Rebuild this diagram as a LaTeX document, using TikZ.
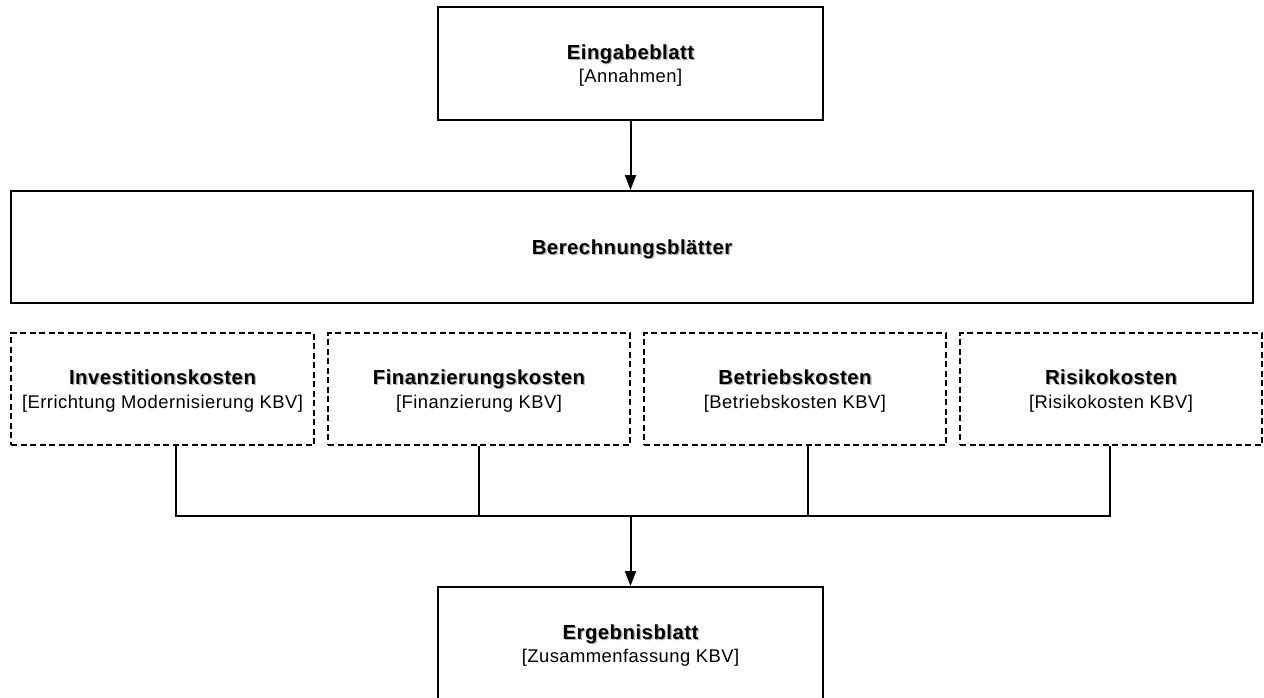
\documentclass[tikz,border=0pt]{standalone}
\usepackage{fontspec}
\usetikzlibrary{arrows.meta}
\newfontfamily\dfont[LetterSpace=2.5]{Liberation Sans}
\newcommand\shd[1]{\makebox[0pt][l]{\hspace{1.3pt}\raisebox{-1.3pt}{\textcolor{black!30}{#1}}}#1}
\newcommand\ttl[1]{{\fontsize{20.3}{24}\selectfont\bfseries\shd{#1}}}
\tikzset{
  box/.style={draw=black, line width=2pt, fill=white, inner sep=0pt, align=center,
    text depth=0pt, font=\dfont\fontsize{18.4}{23.5}\selectfont},
  dbox/.style={box, dash pattern=on 6pt off 3.5pt},
  conn/.style={draw=black, line width=2pt},
  arr/.style={conn, -{Triangle[width=11pt,length=15pt]}},
}
\begin{document}
\begin{tikzpicture}[x=1pt,y=-1pt]
\useasboundingbox (0,0) rectangle (1264,697);
\node[box, minimum width=385pt, minimum height=113pt] (ein) at (630.5,63.5) {\ttl{Eingabeblatt}\\{[Annahmen]}};
\node[box, minimum width=1242pt, minimum height=112pt] (ber) at (632,247) {\ttl{Berechnungsbl\"atter}};
\node[dbox, minimum width=303pt, minimum height=112pt] (inv) at (162.5,389) {\ttl{Investitionskosten}\\{[Errichtung Modernisierung KBV]}};
\node[dbox, minimum width=302pt, minimum height=112pt] (fin) at (479,389) {\ttl{Finanzierungskosten}\\{[Finanzierung KBV]}};
\node[dbox, minimum width=302pt, minimum height=112pt] (bet) at (795,389) {\ttl{Betriebskosten}\\{[Betriebskosten KBV]}};
\node[dbox, minimum width=302pt, minimum height=112pt] (ris) at (1111,389) {\ttl{Risikokosten}\\{[Risikokosten KBV]}};
\node[box, minimum width=385pt, minimum height=113pt, anchor=north] (erg) at (630.5,586) {\ttl{Ergebnisblatt}\\{[Zusammenfassung KBV]}};
\coordinate (b1) at (176,516);
\coordinate (b2) at (479,516);
\coordinate (bm) at (630.5,516);
\coordinate (b3) at (808,516);
\coordinate (b4) at (1110,516);
\draw[arr] (ein.south) -- (ber.north -| ein.south);
\draw[conn] (inv.south -| b1) -- (b1) -- (b4) -- (ris.south -| b4);
\draw[conn] (fin.south -| b2) -- (b2);
\draw[conn] (bet.south -| b3) -- (b3);
\draw[arr] (bm) -- (erg.north);
\end{tikzpicture}
\end{document}
